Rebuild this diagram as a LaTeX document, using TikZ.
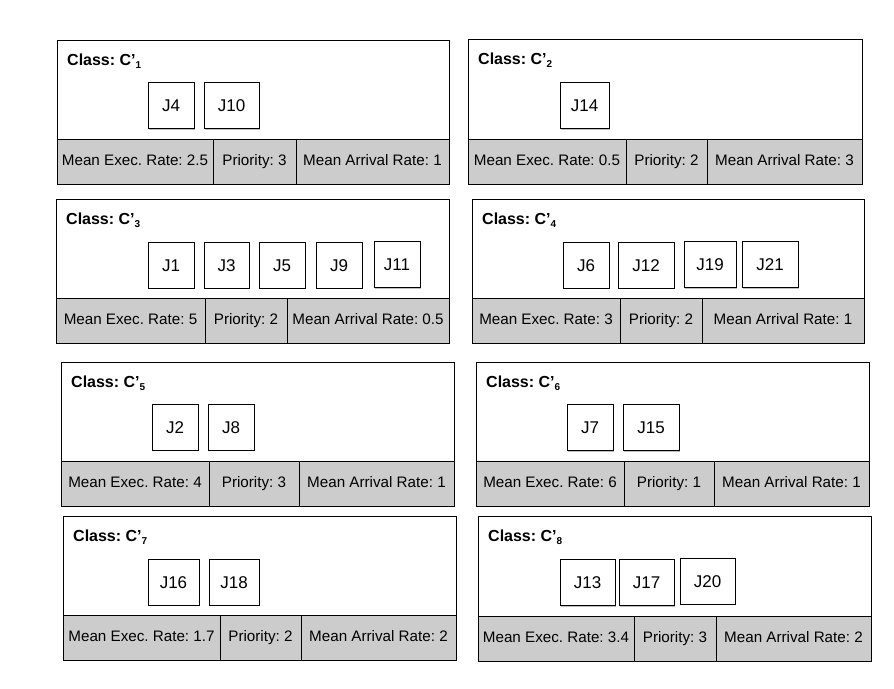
\documentclass[tikz,border=0pt]{standalone}
\usepackage{fontspec}
\setmainfont{Liberation Sans}
\usetikzlibrary{shadows}
\frenchspacing
\begin{document}
\begin{tikzpicture}[x=1pt,y=-1pt,
  job/.style={draw, fill=white, line width=0.9pt, minimum height=46pt, inner sep=0pt,
    text height=12pt, text depth=0pt, font=\fontsize{17}{20}\selectfont,
    drop shadow={shadow xshift=1.4pt, shadow yshift=-1.4pt, fill=black!50}},
  title/.style={anchor=base west, inner sep=0pt, font=\bfseries\fontsize{16}{19}\selectfont},
  cell/.style={inner sep=0pt, text height=11pt, text depth=3pt, font=\fontsize{15.2}{18}\selectfont}]
\useasboundingbox (0,0) rectangle (894,688);
% Define the frame of a class: name, left, top, right, bottom, index
\def\classframe#1#2#3#4#5#6{
\draw[line width=1pt, fill=white] (#2,#3) rectangle (#4,#5);
\draw[line width=1pt, fill=gray!40] (#2,#5-45) rectangle (#4,#5);
\node[title] (#1) at (#2+10,#3+25) {Class: C'\raisebox{-3.5pt}{\fontsize{10}{10}\selectfont #6}};
}
% Define the grey row: name, left, right, bottom, divider 1, divider 2, rate, priority, arrival
\def\classrow#1#2#3#4#5#6#7#8#9{
\draw[line width=1pt] (#5,#4-45) -- (#5,#4) (#6,#4-45) -- (#6,#4);
\node[cell] (#1-exec) at ({(#2+#5)/2},#4-22.5) {Mean Exec. Rate: #7};
\node[cell] (#1-prio) at ({(#5+#6)/2},#4-22.5) {Priority: #8};
\node[cell] (#1-arr) at ({(#6+#3)/2},#4-22.5) {Mean Arrival Rate: #9};
}
% Class C'1
\classframe{c1}{57}{40}{449}{184}{1}
\classrow{c1}{57}{449}{184}{213}{296}{2.5}{3}{1}
\node[job, minimum width=46pt] (j4) at (171,105.5) {J4};
\node[job, minimum width=55pt] (j10) at (231.5,105.5) {J10};
% Class C'2
\classframe{c2}{468}{39}{862}{184}{2}
\classrow{c2}{468}{862}{184}{626}{707}{0.5}{2}{3}
\node[job, minimum width=49pt] (j14) at (584.5,105.5) {J14};
% Class C'3
\classframe{c3}{56}{199}{449}{343}{3}
\classrow{c3}{56}{449}{343}{205}{287}{5}{2}{0.5}
\node[job, minimum width=46pt] (j1) at (171,265) {J1};
\node[job, minimum width=45pt] (j3) at (226.5,265) {J3};
\node[job, minimum width=46pt] (j5) at (282,265) {J5};
\node[job, minimum width=46pt] (j9) at (339,265) {J9};
\node[job, minimum width=46pt] (j11) at (397,264.5) {J11};
% Class C'4
\classframe{c4}{472}{199}{864}{343}{4}
\classrow{c4}{472}{864}{343}{620}{702}{3}{2}{1}
\node[job, minimum width=46pt] (j6) at (586,265) {J6};
\node[job, minimum width=56pt] (j12) at (646,265) {J12};
\node[job, minimum width=52pt] (j19) at (710,264.5) {J19};
\node[job, minimum width=56pt] (j21) at (770,264.5) {J21};
% Class C'5
\classframe{c5}{61}{362}{454}{506}{5}
\classrow{c5}{61}{454}{506}{209}{299}{4}{3}{1}
\node[job, minimum width=46pt] (j2) at (175,427) {J2};
\node[job, minimum width=46pt] (j8) at (231,427) {J8};
% Class C'6
\classframe{c6}{476}{362}{869}{506}{6}
\classrow{c6}{476}{869}{506}{624}{714}{6}{1}{1}
\node[job, minimum width=46pt] (j7) at (590,427.5) {J7};
\node[job, minimum width=56pt] (j15) at (651,427.5) {J15};
% Class C'7
\classframe{c7}{63}{516}{456}{660}{7}
\classrow{c7}{63}{456}{660}{220}{301}{1.7}{2}{2}
\node[job, minimum width=51pt] (j16) at (173.5,582) {J16};
\node[job, minimum width=50pt] (j18) at (234,582) {J18};
% Class C'8
\classframe{c8}{478}{516}{871}{661}{8}
\classrow{c8}{478}{871}{661}{634}{716}{3.4}{3}{2}
\node[job, minimum width=55pt] (j13) at (587.5,582.5) {J13};
\node[job, minimum width=55pt] (j17) at (646.5,582.5) {J17};
\node[job, minimum width=55pt] (j20) at (707.5,581) {J20};
\end{tikzpicture}
\end{document}
